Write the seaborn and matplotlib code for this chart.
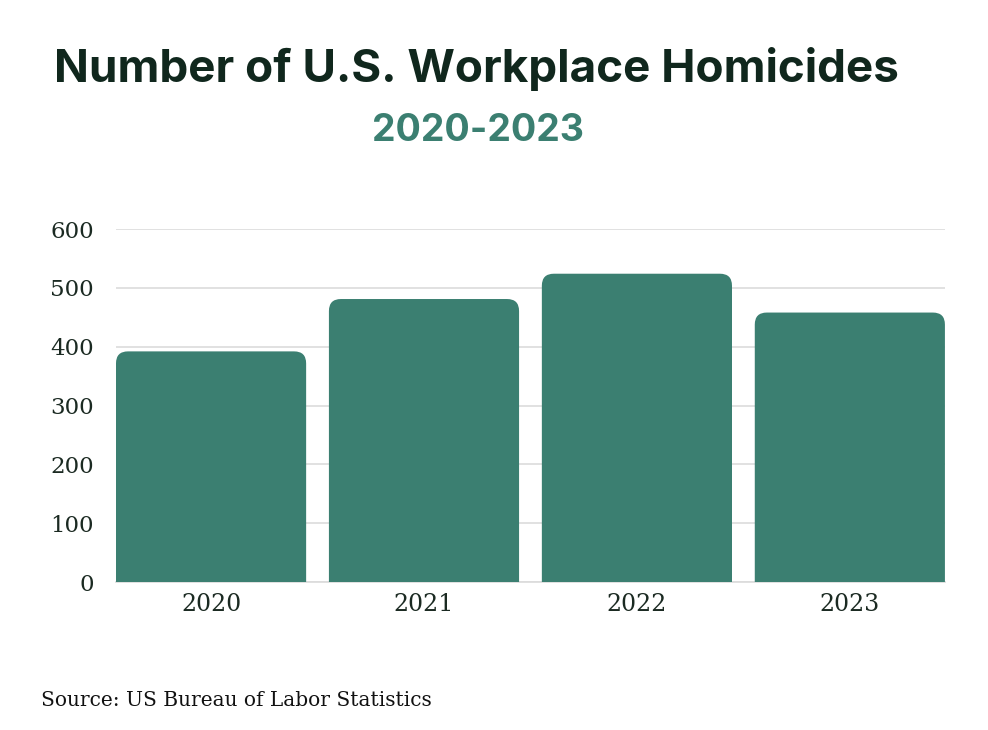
import matplotlib
matplotlib.use('Agg')
import matplotlib.pyplot as plt
import seaborn as sns
import pandas as pd
from matplotlib.patches import FancyBboxPatch

# Data
years = ['2020', '2021', '2022', '2023']
homicides = [392, 481, 524, 458]
y_ticks = [0, 100, 200, 300, 400, 500, 600]

df = pd.DataFrame({'Year': years, 'Homicides': homicides})

bar_color = '#3b7f71'
dark = '#10271d'

sns.set_theme(style='white')

fig = plt.figure(figsize=(9.88, 7.3), dpi=100)
ax = fig.add_axes([0.1174, 0.2027, 0.839, 0.4836])

sns.barplot(data=df, x='Year', y='Homicides', color=bar_color, width=0.893,
            saturation=1, ax=ax, zorder=3)

ax.set_xlim(-0.4465, 3.4465)
ax.set_ylim(0, 600)

# Swap plain bars for bars with rounded top corners
# x units per px and y units per px -> aspect for the rounding
x_per_px = 3.893 / 829
y_per_px = 600 / 353
aspect = y_per_px / x_per_px
radius = 12 * x_per_px
for bar in list(ax.patches):
    x, w, h = bar.get_x(), bar.get_width(), bar.get_height()
    bar.remove()
    rounded = FancyBboxPatch((x, -40), w, h + 40,
                             boxstyle=f'round,pad=0,rounding_size={radius}',
                             mutation_aspect=aspect,
                             facecolor=bar_color, edgecolor='none', zorder=3)
    ax.add_patch(rounded)

ax.set_yticks(y_ticks)
ax.yaxis.grid(True, color='#dcdcdc', linewidth=1.2, zorder=0)
ax.set_axisbelow(True)
for s in ['top', 'right', 'left']:
    ax.spines[s].set_visible(False)
ax.spines['bottom'].set_color('#dcdcdc')
ax.set_xlabel('')
ax.set_ylabel('')
ax.tick_params(axis='both', length=0, labelcolor='#1b2a22')
ax.tick_params(axis='y', pad=16, labelsize=16.5)
ax.tick_params(axis='x', pad=8, labelsize=17)
for lbl in ax.get_xticklabels() + ax.get_yticklabels():
    lbl.set_family('DejaVu Serif')

fig.text(0.482, 0.905, 'Number of U.S. Workplace Homicides', ha='center', va='center',
         fontsize=33, fontweight='bold', family='Inter', color=dark)
fig.text(0.484, 0.820, '2020-2023', ha='center', va='center',
         fontsize=27, fontweight='bold', family='Inter', color='#3b7f71')
fig.text(0.042, 0.040, 'Source: US Bureau of Labor Statistics', ha='left', va='center',
         fontsize=14.5, family='DejaVu Serif', color='#111111')

fig.savefig('out.png', dpi=100, facecolor='white')
